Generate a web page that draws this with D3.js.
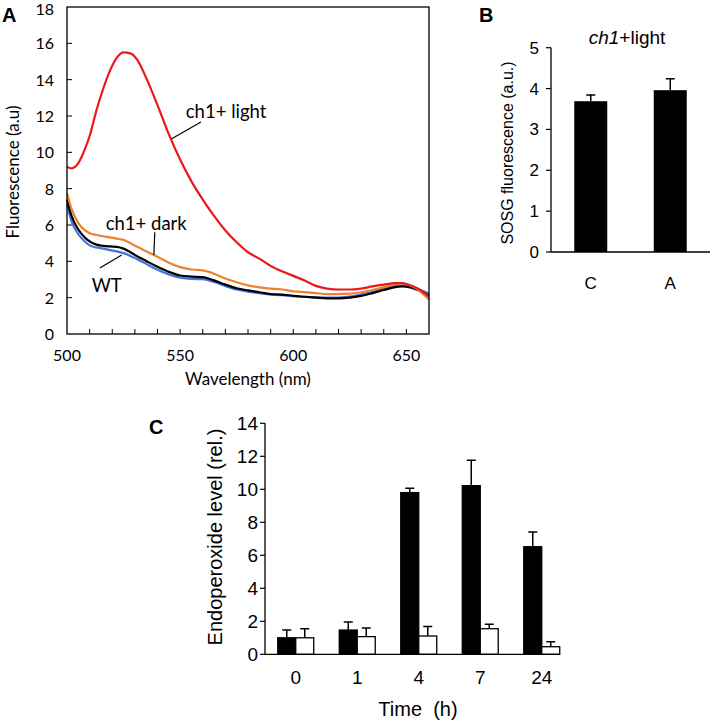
<!DOCTYPE html>
<html>
<head>
<meta charset="utf-8">
<script src="https://cdn.jsdelivr.net/npm/d3@7"></script>
<style>
  body { margin: 0; background: #fff; }
  svg { display: block; }
</style>
</head>
<body>
<script>
// ---- panel A data (spectra) ----
var wavelengths = [500,502,505,508,510,513,516,519,522,525,528,531,535,540,545,550,555,560,565,570,575,580,585,590,595,600,605,610,615,620,625,630,635,640,645,648,650,655,660];
var ch1Light = [9.2,9.12,9.4,10.2,10.9,12.3,13.5,14.5,15.2,15.5,15.45,15.1,14.1,12.6,11.0,9.6,8.4,7.4,6.5,5.7,5.05,4.5,4.15,3.75,3.45,3.2,2.95,2.65,2.5,2.45,2.45,2.5,2.62,2.72,2.8,2.8,2.75,2.5,2.05];
var ch1Dark = [7.75,6.9,6.1,5.7,5.55,5.45,5.38,5.32,5.25,5.18,5.0,4.8,4.55,4.25,3.92,3.68,3.55,3.5,3.32,3.05,2.85,2.68,2.57,2.5,2.45,2.35,2.3,2.25,2.2,2.2,2.22,2.3,2.42,2.58,2.75,2.8,2.75,2.45,1.9];
var wtBlack = [7.4,6.5,5.75,5.3,5.1,4.92,4.85,4.82,4.8,4.7,4.5,4.28,4.02,3.7,3.42,3.22,3.16,3.13,2.95,2.72,2.52,2.4,2.3,2.2,2.17,2.1,2.05,2.0,1.96,1.96,2.0,2.1,2.25,2.42,2.58,2.62,2.6,2.42,2.12];
var wtBlue = [7.15,6.2,5.5,5.08,4.88,4.76,4.7,4.62,4.55,4.45,4.3,4.12,3.86,3.54,3.28,3.1,3.03,3.02,2.86,2.64,2.45,2.33,2.25,2.18,2.14,2.08,2.05,2.02,2.0,2.01,2.06,2.17,2.32,2.5,2.64,2.67,2.64,2.47,2.22];
var yTicksA = [0,2,4,6,8,10,12,14,16,18];
var xTicksA = [500,550,600,650];

// ---- panel B data ----
var bCats = ["C","A"];
var bVals = [3.69,3.96];
var bErr = [0.15,0.28];
var yTicksB = [0,1,2,3,4,5];

// ---- panel C data ----
var times = ["0","1","4","7","24"];
var cBlack = [1.0,1.47,9.8,10.22,6.52];
var cBlackErr = [0.47,0.49,0.26,1.54,0.89];
var cWhite = [1.0,1.07,1.11,1.55,0.46];
var cWhiteErr = [0.55,0.53,0.57,0.27,0.3];
var yTicksC = [0,2,4,6,8,10,12,14];

var svg = d3.select("body").append("svg")
    .attr("width", 712)
    .attr("height", 722);

var fontA = "Lato, 'Open Sans', sans-serif";
var fontB = "'Liberation Sans', Arial, sans-serif";

// =============== panel A ===============
var xA = d3.scaleLinear().domain([500, 660]).range([67, 429]);
var yA = d3.scaleLinear().domain([0, 18]).range([334, 7]);

var gA = svg.append("g");

// minor ticks, pointing inward
gA.selectAll(".xt").data(d3.range(510, 660, 10))
  .enter().append("line")
    .attr("x1", d => xA(d)).attr("x2", d => xA(d))
    .attr("y1", yA(0)).attr("y2", yA(0) - 5)
    .attr("stroke", "#000").attr("stroke-width", 1);
gA.selectAll(".yt").data(yTicksA.slice(1, -1))
  .enter().append("line")
    .attr("x1", xA(500)).attr("x2", xA(500) + 5)
    .attr("y1", d => yA(d)).attr("y2", d => yA(d))
    .attr("stroke", "#000").attr("stroke-width", 1);

var lineA = d3.line()
    .x((d, i) => xA(wavelengths[i]))
    .y(d => yA(d))
    .curve(d3.curveMonotoneX);

var series = [
  {vals: wtBlue, color: "#4472e0"},
  {vals: wtBlack, color: "#000000"},
  {vals: ch1Dark, color: "#f0802a"},
  {vals: ch1Light, color: "#e8181c"}
];
gA.selectAll(".spec").data(series)
  .enter().append("path")
    .attr("d", d => lineA(d.vals))
    .attr("fill", "none")
    .attr("stroke", d => d.color)
    .attr("stroke-width", 2.2);

gA.append("rect")
    .attr("x", xA(500)).attr("y", yA(18))
    .attr("width", xA(660) - xA(500)).attr("height", yA(0) - yA(18))
    .attr("fill", "none").attr("stroke", "#000").attr("stroke-width", 1.3);

gA.selectAll(".ylab").data(yTicksA)
  .enter().append("text")
    .attr("x", 54).attr("y", d => yA(d) + 6)
    .attr("dy", d => d === 18 ? 1.5 : 0)
    .attr("text-anchor", "end")
    .attr("font-family", fontA).attr("font-size", "16px")
    .text(d => d);
gA.selectAll(".xlab").data(xTicksA)
  .enter().append("text")
    .attr("x", d => xA(d)).attr("y", 361)
    .attr("text-anchor", "middle")
    .attr("font-family", fontA).attr("font-size", "16px")
    .text(d => d);

gA.append("text")
    .attr("transform", "translate(19,172) rotate(-90)")
    .attr("text-anchor", "middle")
    .attr("font-family", fontA).attr("font-size", "17px")
    .text("Fluorescence (a.u)");
gA.append("text")
    .attr("x", 248).attr("y", 385)
    .attr("text-anchor", "middle")
    .attr("font-family", fontA).attr("font-size", "17px")
    .text("Wavelength (nm)");

// annotations
var notes = [
  {text: "ch1+ light", tx: 552.5, ty: 11.9, l: [[559.2, 11.67], [546.3, 10.75]]},
  {text: "ch1+ dark", tx: 517.1, ty: 5.72, l: [[538.8, 5.6], [538.4, 4.35]]},
  {text: "WT", tx: 510.9, ty: 2.31, l: [[514.5, 3.63], [524.2, 4.35]]}
];
notes.forEach(function(n) {
  gA.append("text")
      .attr("x", xA(n.tx)).attr("y", yA(n.ty))
      .attr("font-family", fontA).attr("font-size", "18.5px")
      .text(n.text);
  gA.append("line")
      .attr("x1", xA(n.l[0][0])).attr("y1", yA(n.l[0][1]))
      .attr("x2", xA(n.l[1][0])).attr("y2", yA(n.l[1][1]))
      .attr("stroke", "#000").attr("stroke-width", 1.2);
});

gA.append("text")
    .attr("x", 2).attr("y", 22)
    .attr("font-family", fontB).attr("font-weight", "bold").attr("font-size", "20px")
    .text("A");

// =============== panel B ===============
var xB = d3.scaleBand().domain(bCats).range([551, 710])
    .paddingInner(0.585).paddingOuter(0.2925);
var yB = d3.scaleLinear().domain([0, 5]).range([252, 47.7]);
var gB = svg.append("g");

gB.selectAll(".bar").data(bVals)
  .enter().append("rect")
    .attr("x", (d, i) => xB(bCats[i]))
    .attr("y", d => yB(d))
    .attr("width", xB.bandwidth())
    .attr("height", d => yB(0) - yB(d))
    .attr("fill", "#000");
gB.selectAll(".err").data(bVals)
  .enter().append("path")
    .attr("d", function(d, i) {
      var cx = xB(bCats[i]) + xB.bandwidth() / 2, top = yB(d + bErr[i]);
      return "M" + cx + "," + yB(d) + "V" + top + "M" + (cx - 4.5) + "," + top + "H" + (cx + 4.5);
    })
    .attr("stroke", "#000").attr("stroke-width", 1.5).attr("fill", "none");

gB.append("line").attr("x1", 551).attr("x2", 551).attr("y1", yB(0)).attr("y2", yB(5))
    .attr("stroke", "#000").attr("stroke-width", 1.3);
gB.append("line").attr("x1", 551).attr("x2", 710).attr("y1", yB(0)).attr("y2", yB(0))
    .attr("stroke", "#000").attr("stroke-width", 1.3);
gB.selectAll(".ty").data(yTicksB)
  .enter().append("line")
    .attr("x1", 546).attr("x2", 551)
    .attr("y1", d => yB(d)).attr("y2", d => yB(d))
    .attr("stroke", "#000").attr("stroke-width", 1.2);
gB.selectAll(".ylab").data(yTicksB)
  .enter().append("text")
    .attr("x", 539).attr("y", d => yB(d) + 6)
    .attr("text-anchor", "end")
    .attr("font-family", fontB).attr("font-size", "17px")
    .text(d => d);
gB.selectAll(".xlab").data(bCats)
  .enter().append("text")
    .attr("x", d => xB(d) + xB.bandwidth() / 2).attr("y", 289)
    .attr("text-anchor", "middle")
    .attr("font-family", fontB).attr("font-size", "17px")
    .text(d => d);

gB.append("text")
    .attr("transform", "translate(513,153) rotate(-90)")
    .attr("text-anchor", "middle")
    .attr("font-family", fontB).attr("font-size", "16px")
    .text("SOSG fluorescence (a.u.)");
var tB = gB.append("text")
    .attr("x", 627).attr("y", 44)
    .attr("text-anchor", "middle")
    .attr("font-family", fontB).attr("font-size", "19px");
tB.append("tspan").attr("font-style", "italic").text("ch1");
tB.append("tspan").text("+light");

gB.append("text")
    .attr("x", 479).attr("y", 22)
    .attr("font-family", fontB).attr("font-weight", "bold").attr("font-size", "20px")
    .text("B");

// =============== panel C ===============
var xC = d3.scaleBand().domain(times).range([265, 572.5])
    .paddingInner(0.415).paddingOuter(0.2075);
var xSub = d3.scaleBand().domain(["black", "white"]).range([0, xC.bandwidth()]);
var yC = d3.scaleLinear().domain([0, 14]).range([654.3, 423.3]);
var gC = svg.append("g");

var cSeries = [
  {key: "black", vals: cBlack, err: cBlackErr, fill: "#000"},
  {key: "white", vals: cWhite, err: cWhiteErr, fill: "#fff"}
];
cSeries.forEach(function(s) {
  gC.selectAll(".err-" + s.key).data(s.vals)
    .enter().append("path")
      .attr("d", function(d, i) {
        var cx = xC(times[i]) + xSub(s.key) + xSub.bandwidth() / 2, top = yC(d + s.err[i]);
        return "M" + cx + "," + yC(d) + "V" + top + "M" + (cx - 4.5) + "," + top + "H" + (cx + 4.5);
      })
      .attr("stroke", "#000").attr("stroke-width", 1.5).attr("fill", "none");
  gC.selectAll(".bar-" + s.key).data(s.vals)
    .enter().append("rect")
      .attr("x", (d, i) => xC(times[i]) + xSub(s.key))
      .attr("y", d => yC(d))
      .attr("width", xSub.bandwidth())
      .attr("height", d => yC(0) - yC(d))
      .attr("fill", s.fill)
      .attr("stroke", "#000").attr("stroke-width", 1.3);
});

gC.append("line").attr("x1", 265).attr("x2", 265).attr("y1", yC(0)).attr("y2", yC(14))
    .attr("stroke", "#000").attr("stroke-width", 1.3);
gC.append("line").attr("x1", 265).attr("x2", 560).attr("y1", yC(0)).attr("y2", yC(0))
    .attr("stroke", "#000").attr("stroke-width", 1.3);
gC.selectAll(".ty").data(yTicksC)
  .enter().append("line")
    .attr("x1", 260).attr("x2", 265)
    .attr("y1", d => yC(d)).attr("y2", d => yC(d))
    .attr("stroke", "#000").attr("stroke-width", 1.2);
gC.selectAll(".ylab").data(yTicksC)
  .enter().append("text")
    .attr("x", 258).attr("y", d => yC(d) + 7)
    .attr("text-anchor", "end")
    .attr("font-family", fontB).attr("font-size", "19px")
    .text(d => d);
gC.selectAll(".xlab").data(times)
  .enter().append("text")
    .attr("x", d => xC(d) + xC.bandwidth() / 2).attr("y", 684)
    .attr("text-anchor", "middle")
    .attr("font-family", fontB).attr("font-size", "19px")
    .text(d => d);

gC.append("text")
    .attr("transform", "translate(222,537) rotate(-90)")
    .attr("text-anchor", "middle")
    .attr("font-family", fontB).attr("font-size", "20px")
    .text("Endoperoxide level (rel.)");
gC.append("text")
    .attr("x", 418).attr("y", 716)
    .attr("text-anchor", "middle")
    .attr("font-family", fontB).attr("font-size", "20px")
    .attr("xml:space", "preserve")
    .style("white-space", "pre")
    .text("Time  (h)");

gC.append("text")
    .attr("x", 149).attr("y", 434)
    .attr("font-family", fontB).attr("font-weight", "bold").attr("font-size", "20px")
    .text("C");
</script>
</body>
</html>
